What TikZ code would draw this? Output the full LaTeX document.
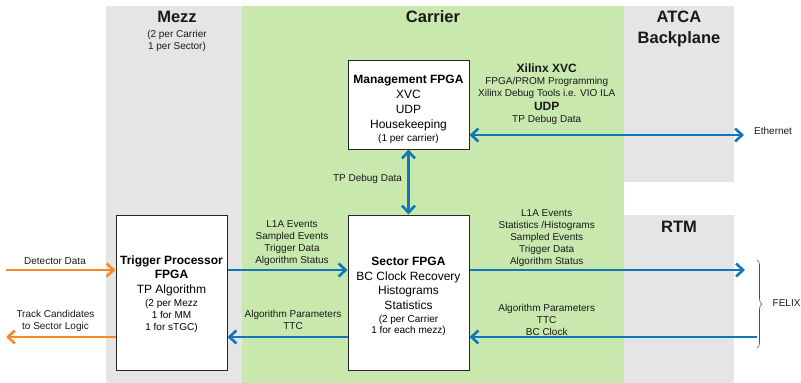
\documentclass[tikz,border=0pt]{standalone}
\usepackage{fontspec}
\setmainfont{Liberation Sans}
\usetikzlibrary{arrows.meta,decorations.pathreplacing}
\definecolor{bgray}{RGB}{229,229,229}
\definecolor{cgreen}{RGB}{200,232,173}
\definecolor{ablue}{RGB}{20,117,187}
\definecolor{aorange}{RGB}{244,140,38}
\definecolor{txt}{RGB}{25,25,25}
\begin{document}
\begin{tikzpicture}[x=1pt,y=-1pt,
  fpga/.style={draw=black!85, line width=1pt, fill=white, inner sep=0pt},
  fpgatext/.style={text=black, align=center, inner sep=0pt, font=\fontsize{12}{15}\selectfont},
  lbl/.style={text=txt, align=center, inner sep=0pt, anchor=base, font=\fontsize{10}{12}\selectfont},
  ttl/.style={text=txt, align=center, inner sep=0pt, anchor=base, font=\fontsize{16.5}{20.5}\selectfont\bfseries},
  barrow/.style={draw=ablue, line width=2.6pt, -{Straight Barb[length=7pt,width=13pt]}},
  bdarrow/.style={draw=ablue, line width=2.6pt, {Straight Barb[length=7pt,width=13pt]}-{Straight Barb[length=7pt,width=13pt]}},
  oarrow/.style={draw=aorange, line width=2.6pt, -{Straight Barb[length=7pt,width=13pt]}}
]
\useasboundingbox (0,0) rectangle (801,383);
% regions
\fill[bgray] (106,6) rectangle (242,383);
\fill[cgreen] (242,6) rectangle (624,383);
\fill[bgray] (624,6) rectangle (734,182);
\fill[bgray] (624,215) rectangle (734,383);
% titles (base anchor = last line's baseline)
\node[ttl] (tmezz) at (177,22.5) {Mezz};
\node[lbl] (smezz) at (177,49) {(2 per Carrier\\1 per Sector)};
\node[ttl] (tcarrier) at (433,22.5) {Carrier};
\node[ttl] (tatca) at (679,43.3) {ATCA\\Backplane};
\node[ttl] (trtm) at (679,232) {RTM};
% boxes
\node[fpga, minimum width=121pt, minimum height=89pt] (mgmt) at (408.5,104.5) {};
\node[fpgatext] (mgmtt) at ([yshift=-5pt]mgmt.center)
  {\textbf{Management FPGA}\\XVC\\UDP\\Housekeeping\\[-2pt]{\fontsize{10}{12}\selectfont (1 per carrier)}};
\node[fpga, minimum width=111pt, minimum height=155pt] (tp) at (171.5,292.5) {};
\node[fpgatext] (tpt) at ([yshift=-2pt]tp.center)
  {\textbf{Trigger Processor}\\[-1pt]\textbf{FPGA}\\TP Algorithm\\[-2pt]{\fontsize{10}{12}\selectfont (2 per Mezz}\\[-3pt]{\fontsize{10}{12}\selectfont 1 for MM}\\[-3pt]{\fontsize{10}{12}\selectfont 1 for sTGC)}};
\node[fpga, minimum width=121pt, minimum height=155pt] (sec) at (408.5,292.5) {};
\node[fpgatext] (sect) at ([yshift=-4pt]sec.center)
  {\textbf{Sector FPGA}\\BC Clock Recovery\\[-1pt]Histograms\\Statistics\\[-2pt]{\fontsize{10}{12}\selectfont (2 per Carrier}\\[-4pt]{\fontsize{10}{12}\selectfont 1 for each mezz)}};
% free ends
\coordinate (det) at (6,270);
\coordinate (track) at (6,337);
\coordinate (rtmout) at (745,270);
\coordinate (rtmin) at (757,337);
\coordinate (eth) at (744,135);
% connectors
\draw[oarrow] (det) -- ([yshift=22.5pt]tp.west);
\draw[oarrow] ([yshift=-44.5pt]tp.west) -- (track);
\draw[barrow] ([yshift=22.5pt]tp.east) -- ([yshift=22.5pt]sec.west);
\draw[barrow] ([yshift=-44.5pt]sec.west) -- ([yshift=-44.5pt]tp.east);
\draw[barrow] ([yshift=22.5pt]sec.east) -- (rtmout);
\draw[barrow] (rtmin) -- ([yshift=-44.5pt]sec.east);
\draw[bdarrow] ([yshift=-30.5pt]mgmt.east) -- (eth);
\draw[bdarrow] (mgmt.south) -- (sec.north);
% labels
\node[lbl] (ldet) at (55,264.6) {Detector Data};
\node[lbl] (ltrack) at (55.5,329) {Track Candidates\\to Sector Logic};
\node[lbl] (ltpsec) at (292,263.6) {L1A Events\\Sampled Events\\Trigger Data\\Algorithm Status};
\node[lbl] (lsectp) at (293,329.6) {Algorithm Parameters\\TTC};
\node[lbl] (lsecout) at (546.7,264) {L1A Events\\Statistics /Histograms\\Sampled Events\\Trigger Data\\Algorithm Status};
\node[lbl] (lsecin) at (546.7,335) {Algorithm Parameters\\TTC\\BC Clock};
\node[lbl, font=\fontsize{12}{14}\selectfont\bfseries] (lxvc) at (546.7,72) {Xilinx XVC};
\node[lbl] (lxvc2) at (546.7,96.3) {FPGA/PROM Programming\\[-0.3pt]Xilinx Debug Tools i.e. VIO ILA};
\node[lbl, font=\fontsize{12}{14}\selectfont\bfseries] (ludp) at (546.7,110.3) {UDP};
\node[lbl] (ludp2) at (546.7,122.6) {TP Debug Data};
\node[lbl, anchor=base west] (leth) at (754,134.6) {Ethernet};
\node[lbl] (ldbg) at (367.5,181) {TP Debug Data};
% FELIX brace
\draw[draw=black!70, line width=0.6pt, decorate, decoration={brace, amplitude=5pt}] (757,260) -- (757,348);
\node[lbl, anchor=base west] (lfelix) at (772.5,306.3) {FELIX};
\end{tikzpicture}
\end{document}
